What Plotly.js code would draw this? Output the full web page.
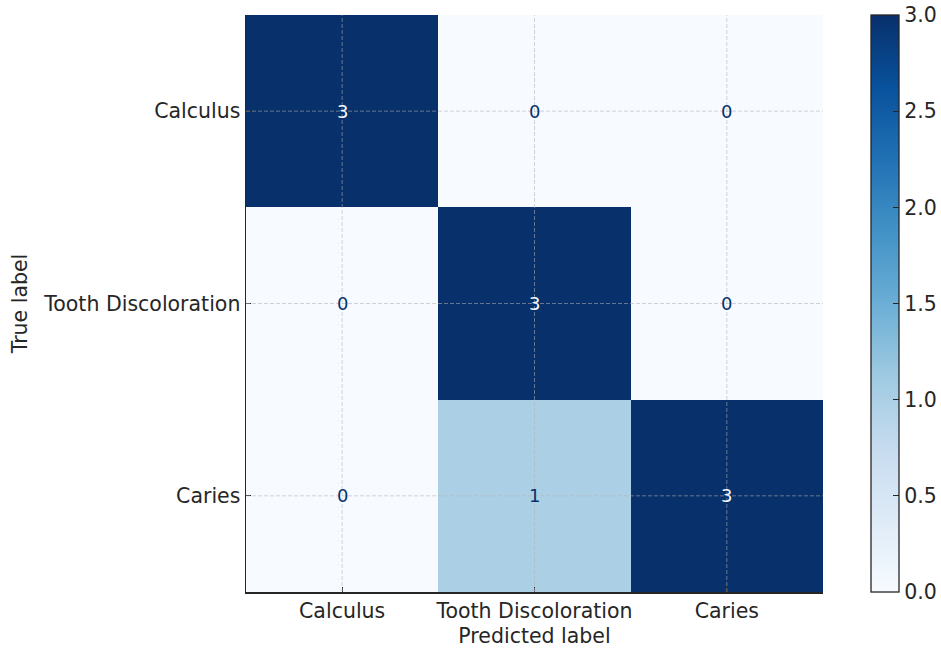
<!DOCTYPE html>
<html>
<head>
<meta charset="utf-8">
<script src="https://cdn.plot.ly/plotly-3.0.1.min.js"></script>
<style>html,body{margin:0;padding:0;background:#fff;}#chart{width:941px;height:648px;}</style>
</head>
<body>
<div id="chart"></div>
<script>
const categories = ["Calculus", "Tooth Discoloration", "Caries"];
const matrix = [
  [3, 0, 0],
  [0, 3, 0],
  [0, 1, 3]
];
const colorbarTicks = [0, 0.5, 1.0, 1.5, 2.0, 2.5, 3.0];

const blues = [
  [0.0, "#f7fbff"], [0.125, "#deebf7"], [0.25, "#c6dbef"], [0.375, "#9ecae1"],
  [0.5, "#6baed6"], [0.625, "#4292c6"], [0.75, "#2171b5"], [0.875, "#08519c"], [1.0, "#08306b"]
];
const FONT = "DejaVu Sans, sans-serif";
const TXT = "#262626";
const FS = 20.5;
const zmin = 0, zmax = 3;

const trace = {
  type: "heatmap",
  x: categories,
  y: categories,
  z: matrix,
  zmin: zmin, zmax: zmax,
  colorscale: blues,
  hoverongaps: false,
  colorbar: {
    thickness: 28,
    len: 1, lenmode: "fraction",
    y: 0.5, yanchor: "middle", ypad: 0,
    x: 1.083, xanchor: "left", xpad: 0,
    outlinecolor: TXT, outlinewidth: 1.3,
    tickvals: colorbarTicks,
    tickformat: ".1f",
    ticks: "inside", ticklen: 6, tickwidth: 1.3, tickcolor: TXT,
    tickfont: {family: FONT, size: FS, color: TXT}
  }
};

const gridLine = {color: "rgba(176,176,176,0.55)", width: 1, dash: "4px,2px"};
const shapes = [];
categories.forEach(c => {
  shapes.push({type: "line", xref: "x", yref: "paper", x0: c, x1: c, y0: 0, y1: 1, line: gridLine, layer: "above"});
  shapes.push({type: "line", xref: "paper", yref: "y", x0: 0, x1: 1, y0: c, y1: c, line: gridLine, layer: "above"});
});

const thresh = (zmin + zmax) / 2;
const annotations = [];
matrix.forEach((row, i) => row.forEach((v, j) => {
  annotations.push({
    x: categories[j], y: categories[i], xref: "x", yref: "y",
    text: String(v), showarrow: false,
    font: {family: FONT, size: 18, color: v > thresh ? "#f7fbff" : "#08306b"}
  });
}));

const layout = {
  width: 941, height: 648,
  margin: {l: 246, r: 118, t: 15, b: 56, autoexpand: false},
  paper_bgcolor: "#ffffff", plot_bgcolor: "#ffffff",
  font: {family: FONT, size: FS, color: TXT},
  xaxis: {
    type: "category", range: [-0.5, 2.5],
    showgrid: false, zeroline: false,
    showline: true, linecolor: TXT, linewidth: 1.5,
    ticks: "inside", ticklen: 5, tickwidth: 1.3, tickcolor: TXT,
    tickfont: {family: FONT, size: FS, color: TXT},
    title: {text: "Predicted label", font: {family: FONT, size: FS, color: TXT}, standoff: 6}
  },
  yaxis: {
    type: "category", range: [2.5, -0.5],
    showgrid: false, zeroline: false,
    showline: true, linecolor: TXT, linewidth: 1.5,
    ticks: "inside", ticklen: 5, tickwidth: 1.3, tickcolor: TXT,
    tickfont: {family: FONT, size: FS, color: TXT},
    title: {text: "True label", font: {family: FONT, size: FS, color: TXT}, standoff: 10}
  },
  shapes: shapes,
  annotations: annotations
};

Plotly.newPlot("chart", [trace], layout, {displayModeBar: false, staticPlot: true});
</script>
</body>
</html>
